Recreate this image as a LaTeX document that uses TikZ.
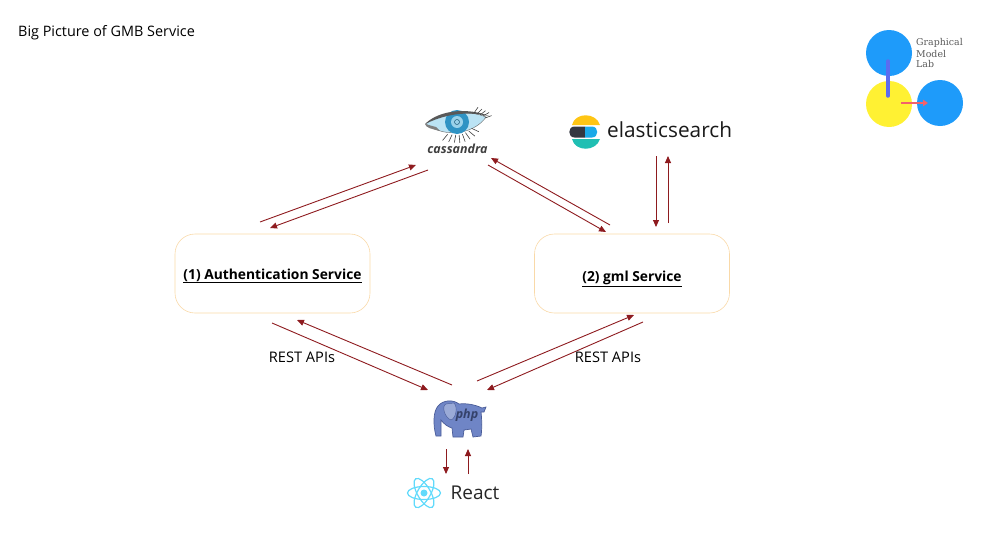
\documentclass[tikz,border=0pt]{standalone}
\usepackage{fontspec}
\setmainfont{Open Sans}
\newfontfamily\slabfont{DejaVu Serif}
\usetikzlibrary{arrows.meta}
\definecolor{flowred}{HTML}{8E1B1F}
\definecolor{boxedge}{HTML}{F9D9A8}
\definecolor{gmlblue}{HTML}{1E9BFA}
\definecolor{gmlyellow}{HTML}{FFF133}
\definecolor{gmlviolet}{HTML}{5B6CF0}
\definecolor{gmlcoral}{HTML}{F2626B}
\definecolor{phpbody}{HTML}{6F85C6}
\definecolor{phpedge}{HTML}{4A5C98}
\definecolor{reactblue}{HTML}{61DAFB}
\definecolor{eyewhite}{HTML}{BBE3F4}
\definecolor{eyeiris}{HTML}{2F93C4}
\definecolor{eyecore}{HTML}{9AD2EA}
\definecolor{elasticyellow}{HTML}{FEC514}
\definecolor{elasticdark}{HTML}{343741}
\definecolor{elasticblue}{HTML}{1BA9E8}
\definecolor{elasticteal}{HTML}{20BFB3}

\begin{document}
\begin{tikzpicture}[x=1pt,y=-1pt]

  % Define styles
  \tikzset{
    flow/.style={-{Triangle[length=7pt,width=6pt]},line width=0.9pt,color=flowred},
    service/.style={draw=boxedge,line width=0.6pt,rounded corners=20pt,minimum width=195pt,minimum height=79pt,
      font=\fontsize{13.8}{16}\selectfont\bfseries},
    rest label/.style={font=\fontsize{14.6}{17}\selectfont},
    lab label/.style={font=\slabfont\fontsize{9.4}{11}\selectfont,text=black!65,anchor=west,inner sep=0pt}
  }

  \useasboundingbox (0,0) rectangle (982,554);

  \node[anchor=west,inner sep=0pt,font=\fontsize{14.4}{17}\selectfont] (title) at (18,33) {Big Picture of GMB Service};

%% Services
  \node[service] (auth) at (272.5,273.5) {\raisebox{-1.5pt}[8pt][0pt]{\underline{(1) Authentication Service}}};
  \node[service] (gml) at (632,273.5) {\raisebox{-3.5pt}[8pt][0pt]{\underline{(2) gml Service}}};

%% Cassandra logo
\begin{scope}
  \draw[black!60,fill=eyewhite] (426,124) .. controls (440,111) and (470,110) .. (486,117)
    .. controls (476,132) and (448,140) .. (426,124) -- cycle;
  \fill[eyeiris] (457,122) circle (12);
  \fill[eyecore] (457,122) circle (6);
  \draw[eyeiris!60!black,line width=0.5pt] (457,122) circle (2.5);
  \fill[black!65] (425,124) .. controls (440,109) and (470,108) .. (489,116)
    .. controls (470,112) and (450,112) .. (425,124) -- cycle;
  \fill[black!50] (425,124) .. controls (426,128) and (432,129) .. (440,131) -- (436,127) -- cycle;
  % lower lashes
  \foreach \a/\r in {25/15,40/14,55/13,70/13,85/13,100/13,115/14,130/16}
    \draw[black!75,line width=0.6pt] (458,122) ++(\a:\r) -- ++(\a:8);
  % upper lashes
  \foreach \x/\y/\a in {474/113/-55,477/114/-45,480/115/-38,483/116/-30,485/118/-20}
    \draw[black!75,line width=0.6pt] (\x,\y) -- ++(\a:7);
  \node[font=\fontsize{12.5}{15}\selectfont\bfseries\itshape,text=black!75,inner sep=0pt] (cass) at (457.5,149) {cassandra};
\end{scope}

%% Elasticsearch logo
\begin{scope}
  \fill[elasticyellow] (572,125) .. controls (575,112) and (596,112) .. (600,125) -- cycle;
  \fill[elasticdark] (585,126.5) -- (574.5,126.5) .. controls (567.5,126.5) and (567.5,137.5) .. (574.5,137.5) -- (585,137.5) -- cycle;
  \fill[elasticblue] (585,126.5) -- (592,126.5) .. controls (599,126.5) and (599,137.5) .. (592,137.5) -- (585,137.5) -- cycle;
  \fill[elasticteal] (572,139) .. controls (575,152) and (596,152) .. (600,139) -- cycle;
  \node[anchor=west,inner sep=0pt,font=\fontsize{20.8}{24}\selectfont,text=black!90] (elastic) at (607,130) {elasticsearch};
\end{scope}

%% Php logo
\begin{scope}
  \draw[phpedge,fill=phpbody,line width=0.7pt] (436,436) .. controls (433,425) and (433,412) .. (438,406)
    .. controls (444,399) and (454,400) .. (459,404) .. controls (467,403) and (476,405) .. (482,408)
    -- (486,407) -- (484,412) -- (481,412) .. controls (482,420) and (482,430) .. (481,436)
    -- (473,437) -- (471,429) -- (464,430) -- (463,437) -- (453,437) -- (452,428)
    .. controls (448,427) and (444,424) .. (441,420) -- (441,436) -- cycle;
  \draw[phpedge,fill=phpbody!70!white,line width=0.4pt] (446,404) .. controls (441,406) and (445,418) .. (451,420)
    .. controls (456,418) and (458,407) .. (454,403) -- cycle;
  \node[font=\fontsize{12.5}{15}\selectfont\bfseries\itshape,text=phpedge!70!black,inner sep=0pt] (php) at (467,415) {php};
\end{scope}

%% React logo
\begin{scope}
  \foreach \a in {0,60,120}
    \draw[reactblue,line width=1.2pt,rotate around={\a:(424,493)}] (424,493) ellipse (16.5 and 6.5);
  \fill[reactblue] (424,493) circle (3.5);
  \node[anchor=west,inner sep=0pt,font=\fontsize{19}{22}\selectfont,text=black!85] (react) at (450.5,492.5) {React};
\end{scope}

%% Graphical Model Lab logo
\begin{scope}
  \fill[gmlblue] (889,53) circle (23);
  \fill[gmlyellow] (889,104) circle (23);
  \fill[gmlblue] (940,103) circle (23);
  \draw[gmlviolet,line width=3.5pt,line cap=round] (888,61) -- (888,96);
  \draw[-{Triangle[length=5pt,width=6.5pt]},gmlcoral,line width=2pt] (901,103) -- (928,103);
  \node[lab label] (labtop) at (916,43) {Graphical};
  \node[lab label] (labmid) at (916,53.5) {Model};
  \node[lab label] (labbot) at (916,64) {Lab};
\end{scope}

%% Connectors
  \draw[flow] ([shift={(-12.5,-51.5)}]auth.center) -- ([shift={(-41.5,16)}]cass.center);
  \draw[flow] ([shift={(-29.5,21)}]cass.center) -- ([shift={(-2.5,-45.5)}]auth.center);
  \draw[flow] ([shift={(-22,-48.5)}]gml.center) -- ([shift={(33.5,9)}]cass.center);
  \draw[flow] ([shift={(30.5,16)}]cass.center) -- ([shift={(-26,-41.5)}]gml.center);
  \draw[flow] ([shift={(49,26)}]elastic.west) -- ([shift={(24,-46.5)}]gml.center);
  \draw[flow] ([shift={(36,-50.5)}]gml.center) -- ([shift={(61,26)}]elastic.west);

  \draw[flow] ([shift={(-0.5,49.5)}]auth.center) -- ([shift={(-39,-25)}]php.center);
  \draw[flow] ([shift={(-15,-30)}]php.center) -- ([shift={(24.5,46.5)}]auth.center);
  \draw[flow] ([shift={(10,-34)}]php.center) -- ([shift={(2,41.5)}]gml.center);
  \draw[flow] ([shift={(11,48.5)}]gml.center) -- ([shift={(20,-25)}]php.center);
  \draw[flow] ([shift={(-21,34)}]php.center) -- ([shift={(-4.5,-18.5)}]react.west);
  \draw[flow] ([shift={(17.5,-18.5)}]react.west) -- ([shift={(1,34)}]php.center);

%% Labels on the REST flows
  \node[rest label,inner sep=0pt] (restleft) at (302,357) {REST APIs};
  \node[rest label,inner sep=0pt] (restright) at (608,357) {REST APIs};

\end{tikzpicture}
\end{document}
